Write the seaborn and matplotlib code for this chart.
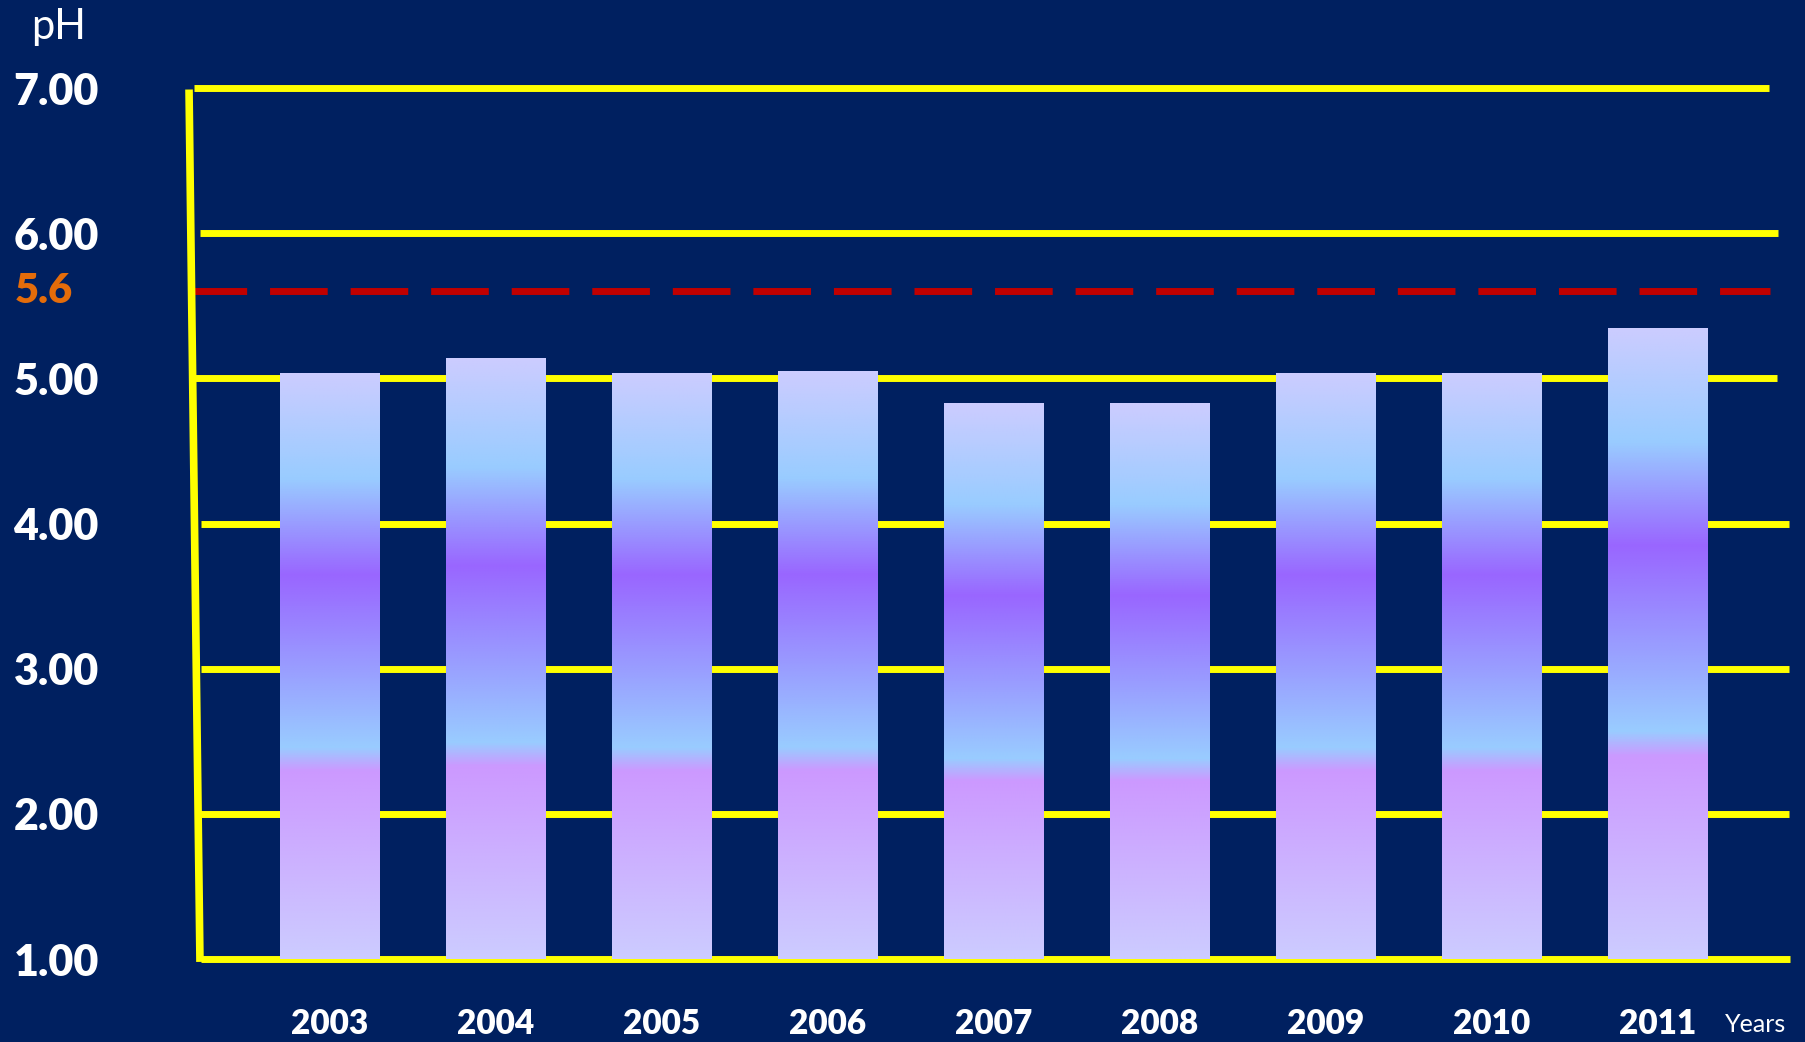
import numpy as np
import pandas as pd
import matplotlib
matplotlib.use("Agg")
import matplotlib.pyplot as plt
from matplotlib.colors import LinearSegmentedColormap
from matplotlib.transforms import blended_transform_factory
import seaborn as sns

# Annual mean rainfall pH
years = ["2003", "2004", "2005", "2006", "2007", "2008", "2009", "2010", "2011"]
ph_values = [5.04, 5.14, 5.04, 5.05, 4.83, 4.83, 5.04, 5.04, 5.35]
y_ticks = [1, 2, 3, 4, 5, 6, 7]
y_tick_labels = ["1.00", "2.00", "3.00", "4.00", "5.00", "6.00", "7.00"]
acid_rain_threshold = 5.6

BG = "#002060"
YELLOW = "#FFFF00"
RED = "#C00000"
ORANGE = "#E46C0A"

sns.set_theme(style="white")
plt.rcParams["font.family"] = ["Lato", "DejaVu Sans"]

fig = plt.figure(figsize=(18.06, 10.42), dpi=100, facecolor=BG)
ax = fig.add_axes([185 / 1806, 0.07965, 1610 / 1806, 0.8637])
ax.set_facecolor(BG)

df = pd.DataFrame({"year": years, "ph": ph_values})
sns.barplot(data=df, x="year", y="ph", ax=ax, width=0.6, color="#CCCCFF",
            saturation=1, zorder=3, linewidth=0, edgecolor="none")

ax.set_xlim(-0.873, 8.825)
ax.set_ylim(1.0, 7.2)

# vertical gradient fill for each bar, scaled to the visible bar height
grad = LinearSegmentedColormap.from_list("rain", [
    (0.00, "#CCCCFF"),
    (0.32, "#CC99FF"),
    (0.36, "#99CCFF"),
    (0.655, "#9966FF"),
    (0.82, "#99CCFF"),
    (1.00, "#CCCCFF"),
])
ramp = np.linspace(0, 1, 512).reshape(-1, 1)
for patch in ax.patches:
    x0 = patch.get_x()
    x1 = x0 + patch.get_width()
    top = patch.get_y() + patch.get_height()
    im = ax.imshow(ramp, cmap=grad, origin="lower", aspect="auto",
                   extent=(x0, x1, 1.0, top), zorder=4, interpolation="bilinear")
    im.set_clip_path(patch)
ax.set_xlim(-0.873, 8.825)
ax.set_ylim(1.0, 7.2)

# yellow horizontal rules, each with its own extent (axes fraction)
rule_extents = {
    7: (0.0056, 0.984),
    6: (0.0093, 0.9894),
    5: (0.003, 0.9889),
    4: (0.0099, 0.9963),
    3: (0.0099, 0.9963),
    2: (0.008, 0.9963),
    1: (0.0099, 0.9969),
}
for level, (xa, xb) in rule_extents.items():
    ax.axhline(level, xmin=xa, xmax=xb, color=YELLOW, lw=5, zorder=2,
               solid_capstyle="butt", clip_on=False)

# slightly slanted left axis line
trans = blended_transform_factory(ax.transAxes, ax.transData)
ax.plot([0.0025, 0.0093], [6.99, 0.98], color=YELLOW, lw=5.5, transform=trans,
        clip_on=False, zorder=5, solid_capstyle="butt")

# acid-rain threshold
ax.axhline(acid_rain_threshold, xmin=0.0025, xmax=0.9845, color=RED, lw=5,
           dashes=(8.3, 3.3), zorder=2)

for s in ax.spines.values():
    s.set_visible(False)

ax.set_yticks(y_ticks)
ax.set_yticklabels(y_tick_labels)
ax.tick_params(axis="y", length=0, pad=62, labelsize=31, labelcolor="white")
for t in ax.get_yticklabels():
    t.set_fontweight("heavy")
ax.tick_params(axis="x", length=0, pad=35, labelsize=24, labelcolor="white")
for t in ax.get_xticklabels():
    t.set_fontweight("heavy")
ax.set_xlabel("")
ax.set_ylabel("")

lab_trans = blended_transform_factory(fig.transFigure, ax.transData)
ax.text(15 / 1806, acid_rain_threshold, "5.6", transform=lab_trans, color=ORANGE,
        fontsize=30, fontweight="heavy", ha="left", va="center", clip_on=False)

fig.text(31 / 1806, 1 - 39 / 1042, "pH", color="white", fontsize=30,
         ha="left", va="baseline")
fig.text(1725 / 1806, 1 - 1025 / 1042, "Years", color="white", fontsize=18,
         ha="left", va="center")

fig.savefig("out.png", dpi=100, facecolor=BG)
